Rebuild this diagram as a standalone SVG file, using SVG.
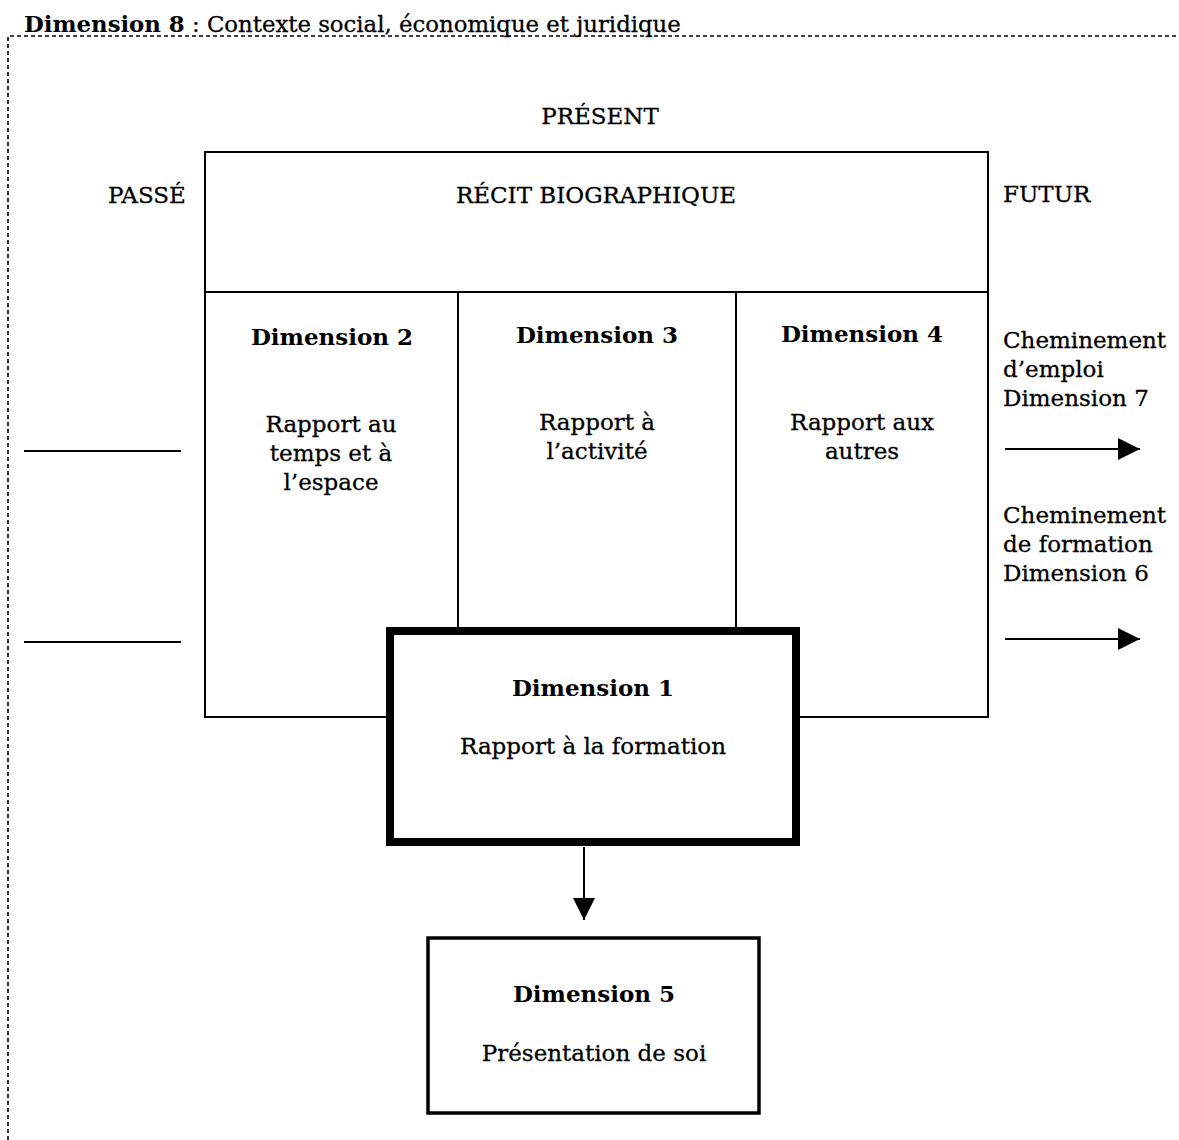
<svg xmlns="http://www.w3.org/2000/svg" width="1179" height="1140" viewBox="0 0 1179 1140">
<style>
text{font-family:"DejaVu Serif","Liberation Serif",serif;font-size:23px;fill:#000;stroke:#000;stroke-width:0.3}
.b{font-weight:bold;stroke-width:0}
.m{text-anchor:middle}
.ln{stroke:#000;stroke-width:2;fill:none}
</style>
<defs>
<marker id="ahb" viewBox="0 0 22 22" refX="22" refY="11" markerWidth="22" markerHeight="22" orient="auto" markerUnits="userSpaceOnUse">
<path d="M0,0 L22,11 L0,22 Z" fill="#000"/>
</marker>
</defs>
<rect width="1179" height="1140" fill="#fff"/>
<g id="dim8">
<path d="M8,1140 V36 H1179" stroke="#000" stroke-width="1.6" stroke-dasharray="4,3" fill="none"/>
<text x="24" y="32" style="font-size:22.8px"><tspan class="b">Dimension 8</tspan> : Contexte social, économique et juridique</text>
</g>
<g id="labels">
<text x="600" y="124" class="m">PRÉSENT</text>
<text x="108" y="203">PASSÉ</text>
<text x="1003" y="202">FUTUR</text>
</g>
<g id="recit">
<rect x="205" y="152" width="783" height="565" class="ln"/>
<line x1="205" y1="292" x2="988" y2="292" class="ln"/>
<text x="596" y="203" class="m">RÉCIT BIOGRAPHIQUE</text>
</g>
<g id="dim2">
<line x1="458" y1="292" x2="458" y2="628" class="ln"/>
<text x="332" y="345" class="m b">Dimension 2</text>
<text x="331" y="432" class="m">Rapport au</text>
<text x="331" y="461" class="m">temps et à</text>
<text x="331" y="490" class="m">l’espace</text>
</g>
<g id="dim3">
<line x1="736" y1="292" x2="736" y2="628" class="ln"/>
<text x="597" y="343" class="m b">Dimension 3</text>
<text x="597" y="430" class="m">Rapport à</text>
<text x="597" y="459" class="m">l’activité</text>
</g>
<g id="dim4">
<text x="862" y="342" class="m b">Dimension 4</text>
<text x="862" y="430" class="m">Rapport aux</text>
<text x="862" y="459" class="m">autres</text>
</g>
<g id="dim7">
<text x="1003" y="348">Cheminement</text>
<text x="1003" y="377">d’emploi</text>
<text x="1003" y="406">Dimension 7</text>
</g>
<g id="dim6">
<text x="1003" y="523">Cheminement</text>
<text x="1003" y="552">de formation</text>
<text x="1003" y="581">Dimension 6</text>
</g>
<g id="dim1">
<rect x="390" y="631" width="406" height="211" fill="#fff" stroke="#000" stroke-width="8"/>
<text x="593" y="696" class="m b">Dimension 1</text>
<text x="593" y="754" class="m">Rapport à la formation</text>
</g>
<g id="dim5">
<rect x="428" y="938" width="331" height="175" fill="#fff" stroke="#000" stroke-width="3.5"/>
<text x="594" y="1002" class="m b">Dimension 5</text>
<text x="594" y="1061" class="m">Présentation de soi</text>
</g>
<g id="connectors">
<line x1="24" y1="451" x2="181" y2="451" class="ln"/>
<line x1="24" y1="642" x2="181" y2="642" class="ln"/>
<line x1="1005" y1="449" x2="1140" y2="449" class="ln" marker-end="url(#ahb)"/>
<line x1="1005" y1="639" x2="1140" y2="639" class="ln" marker-end="url(#ahb)"/>
<line x1="584" y1="847" x2="584" y2="920" class="ln" marker-end="url(#ahb)"/>
</g>
</svg>
